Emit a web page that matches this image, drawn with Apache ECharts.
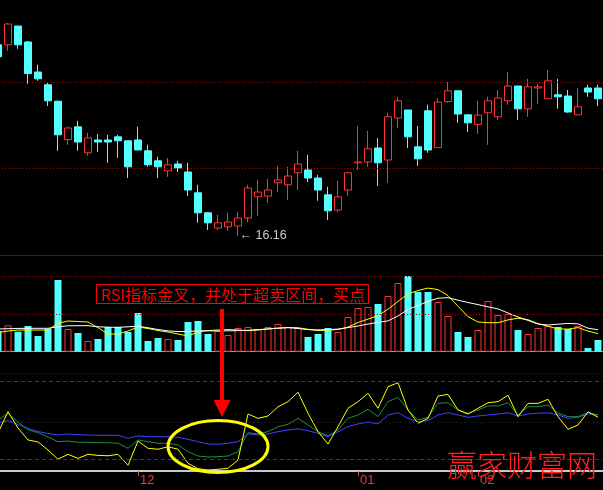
<!DOCTYPE html>
<html><head><meta charset="utf-8">
<script src="https://cdn.jsdelivr.net/npm/echarts@6/dist/echarts.min.js"></script>
<style>html,body{margin:0;padding:0;background:#000;overflow:hidden;width:603px;height:490px;position:relative;}#c{position:absolute;left:-7px;top:0;width:610px;height:490px;}</style>
</head><body><div id="c"></div>
<script>
// ---- categories ----
const dates = ['11-13','11-14','11-15','11-16','11-19','11-20','11-21','11-22','11-23','11-26','11-27','11-28','11-29','11-30',
'12-03','12-04','12-05','12-06','12-07','12-10','12-11','12-12','12-13','12-14','12-17','12-18','12-19','12-20','12-21','12-24','12-25','12-26','12-27','12-28','12-29','12-31',
'01-04','01-07','01-08','01-09','01-10','01-11','01-14','01-15','01-16','01-17','01-18','01-21',
'02-01','02-04','02-05','02-06','02-07','02-08','02-18','02-19','02-20','02-21','02-22','02-25','02-26'];
// ---- price (OHLC) ----
const open = [20.94,20.94,21.41,21.01,20.26,19.94,19.53,18.57,18.89,18.24,18.56,18.56,18.64,18.54,18.56,18.29,18.04,17.79,17.96,17.76,
17.24,16.74,16.36,16.39,16.41,16.61,17.14,17.16,17.49,17.44,17.74,17.81,17.61,17.19,16.81,17.31,17.99,18.01,18.36,18.06,
19.11,19.31,18.39,19.29,18.37,19.52,19.79,19.19,18.95,19.24,19.14,19.54,19.91,19.34,19.86,19.59,19.69,19.66,19.19,19.86,19.86];
const close = [20.64,21.46,20.94,20.22,20.09,19.54,18.69,18.86,18.51,18.61,18.51,18.51,18.54,17.89,18.31,17.94,17.89,17.94,17.86,17.31,
16.74,16.49,16.49,16.51,16.61,17.36,17.26,17.31,17.56,17.66,17.96,17.61,17.31,16.79,17.14,17.74,18.01,18.34,17.99,19.14,
19.54,18.64,18.09,18.31,19.51,19.79,19.21,18.99,19.18,19.54,19.61,19.91,19.34,19.89,19.89,20.04,19.64,19.26,19.39,19.76,19.59];
const low = [20.61,20.79,20.84,19.97,20.04,19.41,18.29,18.44,18.29,18.16,18.26,17.99,18.11,17.61,18.31,17.89,17.61,17.64,17.76,17.16,
16.49,16.31,16.31,16.29,16.16,16.51,16.66,16.99,17.26,17.06,17.31,17.51,17.04,16.56,16.76,17.16,17.81,17.89,17.41,17.49,
18.86,18.36,17.91,18.24,18.37,19.49,18.99,18.76,18.71,18.44,19.06,19.44,19.06,19.14,19.46,19.59,19.34,19.24,19.19,19.64,19.41];
const high = [20.96,21.49,21.41,21.04,20.44,20.01,19.54,18.89,19.04,18.74,18.71,18.69,18.69,18.54,18.89,18.44,18.14,18.11,18.04,17.99,
17.44,16.76,16.69,16.74,16.76,17.44,17.56,17.59,17.91,17.89,18.29,18.19,17.69,17.39,17.54,17.76,18.91,18.79,18.61,19.24,
19.64,19.31,18.91,19.44,19.61,20.01,19.79,19.21,19.54,19.64,19.81,20.26,19.91,20.09,19.96,20.31,20.09,19.81,19.86,19.94,19.94];
// ---- volume ----
const volume = [20.7,26.4,20,25.7,15.7,22.7,71.7,22.7,18.7,10.7,12.7,24.7,24.7,19.7,38.7,10.7,13.7,12.7,11.7,29.7,
30.7,17.7,20.7,16.7,23.7,24.7,22.7,24.7,27.7,24.7,23.7,14.7,17.7,23.7,19.7,34.7,43.7,44.7,47.7,55.7,
68.7,75.7,59.7,59.7,49.7,35.7,19.7,14.7,21.7,50.7,36.7,37.7,21.7,17.7,23.7,25.7,24.7,22.7,25.7,3.7,11.7];
const volMA5 = [19.2,20.7,21.7,21.7,21.7,21.7,28.5,30.7,30.2,29.7,24,17.7,17.7,20.7,24.7,23.2,21.2,19.7,17.7,15.7,
19.7,21.2,21.7,22.2,21.7,21,21.7,22.7,23.7,24.2,24,22.4,21.2,21.6,22.2,24.6,29.2,32.6,36.1,42.5,
50.3,57.8,61.2,63.6,62.1,56.1,45.4,35.1,29.7,29,29,31.8,33.5,32,28.1,25.4,22.8,22.6,24.1,20.6,18.1];
const volMA10 = [22.7,23,23.3,23.4,23.4,23.4,24.9,25.9,26,26,24.9,24.5,24.4,24.9,25.5,23.9,22.2,20.8,20.2,20.2,
20.9,20.9,20.7,20.9,21.1,21.4,22.1,22.8,23.4,24,23.2,22.1,21.8,22.1,22.6,24.1,25.7,27.7,29.3,30.8,
35.7,42.3,46.1,50.3,53.5,54,51.5,49.2,47.1,44.9,42.8,38.7,34.7,31.3,27.6,26.7,27.5,28.3,27.8,23.5,21.9];
// ---- RSI ----
const rsi6 = [40.2,56.5,44.0,34.8,33.3,27.1,20.0,23.8,20.7,23.8,23.0,22.7,23.8,15.4,34.0,28.4,27.7,29.6,27.7,16.9,
12.8,11.8,12.3,13.1,19.4,54.7,51.4,53.2,60.3,64.2,71.5,55.3,41.2,31.7,45.0,59.1,64.2,70.6,59.1,75.7,
78.7,57.8,47.6,51.4,68.5,69.8,57.8,54.7,59.1,63.4,64.2,69.1,52.7,62.9,62.9,66.0,52.7,43.0,46.3,56.5,52.2];
const rsi12 = [50.0,55.3,48.6,42.5,40.5,37.1,33.5,34.0,33.0,33.0,32.7,32.7,32.3,28.4,34.8,33.5,32.3,32.3,31.0,25.8,
22.5,21.7,22.0,22.5,25.8,40.4,39.4,41.2,45.0,46.8,51.4,46.3,41.2,37.9,42.5,51.4,54.0,58.3,52.7,64.2,
67.5,57.8,50.1,52.2,62.9,63.4,57.8,55.3,57.8,60.9,60.9,63.4,54.0,60.3,60.3,61.6,55.3,52.7,52.7,55.7,54.0];
const rsi24 = [47.8,49.6,46.7,43.8,41.3,39.8,38.6,39.4,38.9,38.6,38.4,38.4,38.4,36.1,37.9,37.3,37.3,37.3,36.9,35.3,
33.5,31.7,31.5,32.3,33.5,39.4,38.6,39.4,41.2,42.5,43.4,41.9,39.9,37.3,41.2,45.0,47.1,48.6,47.1,54.0,
55.7,51.4,48.8,49.6,54.0,55.7,54.0,52.2,53.2,54.0,54.7,55.7,53.2,54.7,55.3,55.7,54.0,51.4,52.2,54.7,54.0];
// ---- reference levels & texts ----
const priceLevels = [20.0, 17.85];
const volLevels = [75.7, 37.4];
const rsiDashed = [80, 20];
const rsiDotted = [86, 48.4];
const lowMark = { index: 24, value: 16.16 };
const noteText = 'RSI指标金叉，并处于超卖区间，买点';
const watermarkText = '赢家财富网';

const RED = '#ff3232', CYAN = '#54ffff';
const kData = dates.map((d, i) => [open[i], close[i], low[i], high[i]]);
const isUp = i => close[i] >= open[i];
const volData = volume.map((v, i) => ({
  value: v,
  itemStyle: isUp(i) ? { color: '#000', borderColor: RED, borderWidth: 1 } : { color: CYAN, borderWidth: 0 }
}));
const monthStart = (idx) => idx > 0 && dates[idx].slice(0, 2) !== dates[idx - 1].slice(0, 2);
const hline = (vals, color, type) => ({
  silent: true, symbol: ['none', 'none'], label: { show: false }, animation: false,
  data: vals.map(v => ({ yAxis: v, lineStyle: { color: color, type: type, width: 1 } }))
});

const chart = echarts.init(document.getElementById('c'));
const OX = 7; // chart canvas is shifted 7px left of the page
chart.setOption({
  backgroundColor: '#000',
  animation: false,
  grid: [
    { left: 0, width: 610, top: 0, height: 255 },
    { left: 0, width: 610, top: 255, height: 96.7 },
    { left: 0, width: 610, top: 355, height: 116 }
  ],
  xAxis: [
    { type: 'category', gridIndex: 0, data: dates, axisLine: { show: true, lineStyle: { color: '#8b0000', width: 1 } }, axisTick: { show: false }, axisLabel: { show: false }, splitLine: { show: false } },
    { type: 'category', gridIndex: 1, data: dates, axisLine: { show: true, lineStyle: { color: '#a0a0a0', width: 1 } }, axisTick: { show: false }, axisLabel: { show: false }, splitLine: { show: false } },
    { type: 'category', gridIndex: 2, data: dates,
      axisLine: { show: true, lineStyle: { color: '#c8c8c8', width: 2 } },
      axisTick: { show: true, alignWithLabel: true, interval: monthStart, length: 5, lineStyle: { color: '#e83c3c', width: 1 } },
      axisLabel: { show: true, interval: monthStart, formatter: v => v.slice(0, 2), color: '#e83c3c', fontSize: 13, fontFamily: 'Liberation Sans', align: 'left', margin: 3, padding: [0, 0, 0, 2] },
      splitLine: { show: false } }
  ],
  yAxis: [
    { type: 'value', gridIndex: 0, min: 15.685, max: 22.06, show: false, splitLine: { show: false } },
    { type: 'value', gridIndex: 1, min: 0, max: 96.7, show: false, splitLine: { show: false } },
    { type: 'value', gridIndex: 2, min: 11, max: 100, show: false, splitLine: { show: false } }
  ],
  series: [
    { type: 'candlestick', xAxisIndex: 0, yAxisIndex: 0, data: kData, barWidth: 7,
      itemStyle: { color: '#000', color0: CYAN, borderColor: RED, borderColor0: CYAN, borderWidth: 1 },
      markLine: hline(priceLevels, '#b00000', [1, 2]),
      markPoint: { symbol: 'circle', symbolSize: 1, itemStyle: { color: 'rgba(0,0,0,0)' }, silent: true,
        data: [{ coord: [lowMark.index, lowMark.value] }],
        label: { show: true, position: 'right', distance: 1, formatter: '\u2190 ' + lowMark.value.toFixed(2), color: '#c8ccd4', fontSize: 12.5, fontFamily: 'Liberation Sans' } }
    },
    { type: 'bar', xAxisIndex: 1, yAxisIndex: 1, data: volData, barWidth: 7 },
    { type: 'line', xAxisIndex: 1, yAxisIndex: 1, data: volMA5, symbol: 'none', lineStyle: { color: '#ffff00', width: 1 },
      markLine: hline(volLevels, '#b00000', [1, 2]) },
    { type: 'line', xAxisIndex: 1, yAxisIndex: 1, data: volMA10, symbol: 'none', lineStyle: { color: '#ffffff', width: 1 } },
    { type: 'line', xAxisIndex: 2, yAxisIndex: 2, data: rsi24, symbol: 'none', lineStyle: { color: '#4040ff', width: 1 },
      markLine: hline(rsiDashed, '#d00000', [4, 3]) },
    { type: 'line', xAxisIndex: 2, yAxisIndex: 2, data: rsi12, symbol: 'none', lineStyle: { color: '#1f8f3f', width: 1 },
      markLine: hline(rsiDotted, '#a00000', [1, 3]) },
    { type: 'line', xAxisIndex: 2, yAxisIndex: 2, data: rsi6, symbol: 'none', lineStyle: { color: '#ffff00', width: 1 } }
  ],
  graphic: [
    { type: 'rect', z: 100, shape: { x: 96.5 + OX, y: 284.5, width: 272, height: 19 }, style: { fill: '#000', stroke: '#ff0000', lineWidth: 1 } },
    { type: 'text', z: 101, x: 101 + OX, y: 294.5, style: { text: noteText, fill: '#ff0000', fontSize: 16, fontFamily: 'Noto Sans CJK SC', verticalAlign: 'middle', align: 'left' } },
    { type: 'line', z: 100, shape: { x1: 222 + OX, y1: 309, x2: 222 + OX, y2: 401 }, style: { stroke: '#ff0000', lineWidth: 4 } },
    { type: 'polygon', z: 100, shape: { points: [[213.5 + OX, 400], [230.5 + OX, 400], [222 + OX, 417]] }, style: { fill: '#ff0000' } },
    { type: 'ellipse', z: 100, shape: { cx: 218 + OX, cy: 446.5, rx: 50, ry: 26 }, style: { fill: 'none', stroke: '#ffff00', lineWidth: 3 } },
    { type: 'text', z: 102, x: 447 + OX, y: 465, style: { text: watermarkText, fill: '#ff2020', fontSize: 30, fontWeight: 300, fontFamily: 'Noto Sans CJK SC', verticalAlign: 'middle', align: 'left' } }
  ]
});
</script></body></html>
